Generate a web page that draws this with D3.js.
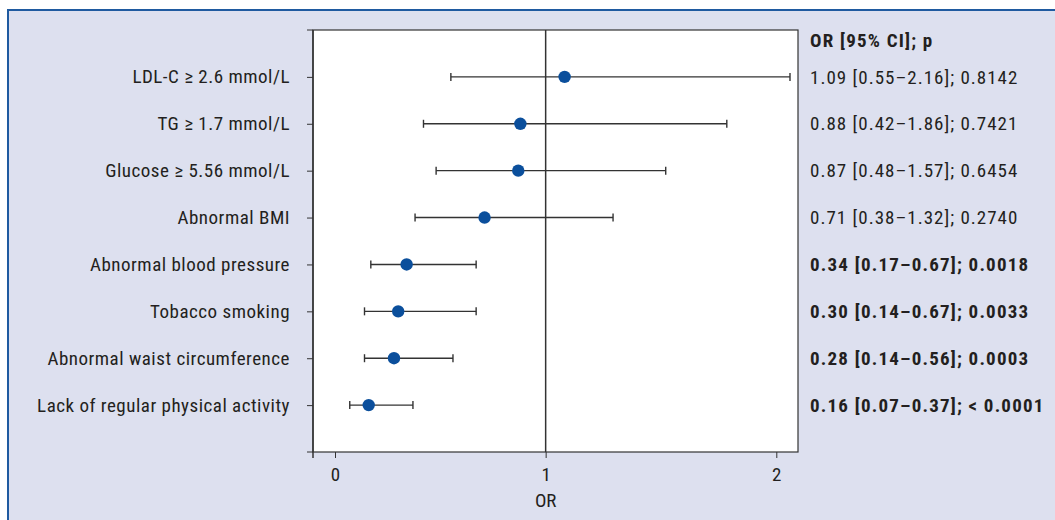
<!DOCTYPE html>
<html>
<head>
<meta charset="utf-8">
<script src="https://cdn.jsdelivr.net/npm/d3@7"></script>
<style>
  html, body { margin: 0; padding: 0; background: #fff; }
  svg { display: block; }
  text { font-family: "Roboto Condensed", "Liberation Sans Narrow", "Liberation Sans", sans-serif; fill: #231f20; }
</style>
</head>
<body>
<svg id="chart" width="1055" height="520"></svg>
<script>
var factors = [
  'LDL-C \u2265 2.6 mmol/L',
  'TG \u2265 1.7 mmol/L',
  'Glucose \u2265 5.56 mmol/L',
  'Abnormal BMI',
  'Abnormal blood pressure',
  'Tobacco smoking',
  'Abnormal waist circumference',
  'Lack of regular physical activity'
];
var oddsRatio = [1.09, 0.88, 0.87, 0.71, 0.34, 0.30, 0.28, 0.16];
var ciLower   = [0.55, 0.42, 0.48, 0.38, 0.17, 0.14, 0.14, 0.07];
var ciUpper   = [2.16, 1.86, 1.57, 1.32, 0.67, 0.67, 0.56, 0.37];
var pValues   = ['0.8142', '0.7421', '0.6454', '0.2740', '0.0018', '0.0033', '0.0003', '< 0.0001'];
var significant = [false, false, false, false, true, true, true, true];
// the original figure draws its "2" tick slightly right of 2.0
var xTickValues = [0, 1, 2.095];
var xTickLabels = ['0', '1', '2'];

var fontSize = 19;

var svg = d3.select('#chart');

// panel
svg.append('rect')
  .attr('x', 8).attr('y', 10)
  .attr('width', 1055).attr('height', 520)
  .attr('fill', '#dde0ef')
  .attr('stroke', '#1f5aa0')
  .attr('stroke-width', 2);

var plotLeft = 313, plotRight = 798, plotTop = 30, plotBottom = 452;

var x = d3.scaleLinear()
  .domain([-0.1045, 2.198])
  .range([plotLeft, plotRight]);

var y = d3.scalePoint()
  .domain(factors)
  .range([plotTop, plotBottom])
  .padding(1);

svg.append('rect')
  .attr('x', plotLeft).attr('y', plotTop)
  .attr('width', plotRight - plotLeft).attr('height', plotBottom - plotTop)
  .attr('fill', '#fff')
  .attr('stroke', '#333')
  .attr('stroke-width', 1.2);

// y axis
var yAxis = d3.axisLeft(y).tickSize(6).tickPadding(17);
var gy = svg.append('g')
  .attr('transform', 'translate(' + plotLeft + ',0)')
  .call(yAxis);
gy.select('.domain').remove();
gy.selectAll('.tick line').attr('stroke', '#333');
gy.selectAll('.tick text')
  .attr('font-size', fontSize)
  .attr('letter-spacing', 0.5)
  .attr('fill', '#231f20');
// end ticks on y axis
[plotTop, plotBottom].forEach(function(v) {
  svg.append('line')
    .attr('x1', plotLeft - 6).attr('x2', plotLeft)
    .attr('y1', v).attr('y2', v)
    .attr('stroke', '#333');
});
svg.append('line')
  .attr('x1', plotLeft).attr('x2', plotLeft)
  .attr('y1', plotTop).attr('y2', plotBottom + 6)
  .attr('stroke', '#333').attr('stroke-width', 1.5);

// x axis
var xAxis = d3.axisBottom(x)
  .tickValues(xTickValues)
  .tickFormat(function(d, i) { return xTickLabels[i]; })
  .tickSize(6)
  .tickPadding(10);
var gx = svg.append('g')
  .attr('transform', 'translate(0,' + plotBottom + ')')
  .call(xAxis);
gx.select('.domain').remove();
gx.selectAll('.tick line').attr('stroke', '#333');
gx.selectAll('.tick text').attr('font-size', fontSize).attr('fill', '#231f20');

svg.append('text')
  .attr('x', x(1))
  .attr('y', 507)
  .attr('text-anchor', 'middle')
  .attr('font-size', fontSize)
  .text('OR');

// reference line at OR = 1
svg.append('line')
  .attr('x1', x(1)).attr('x2', x(1))
  .attr('y1', plotTop).attr('y2', plotBottom)
  .attr('stroke', '#333')
  .attr('stroke-width', 1.5);

var rows = factors.map(function(f, i) {
  return { name: f, or: oddsRatio[i], lo: ciLower[i], hi: ciUpper[i], p: pValues[i], sig: significant[i] };
});

var row = svg.selectAll('.row')
  .data(rows)
  .enter()
  .append('g')
  .attr('class', 'row')
  .attr('transform', function(d) { return 'translate(0,' + y(d.name) + ')'; });

row.append('line')
  .attr('x1', function(d) { return x(d.lo); })
  .attr('x2', function(d) { return x(d.hi); })
  .attr('stroke', '#333')
  .attr('stroke-width', 1.4);

row.selectAll('.cap')
  .data(function(d) { return [d.lo, d.hi]; })
  .enter()
  .append('line')
  .attr('x1', function(d) { return x(d); })
  .attr('x2', function(d) { return x(d); })
  .attr('y1', -4).attr('y2', 4)
  .attr('stroke', '#333')
  .attr('stroke-width', 1.4);

row.append('circle')
  .attr('cx', function(d) { return x(d.or); })
  .attr('r', 6.2)
  .attr('fill', '#0b4f9c');

row.append('text')
  .attr('x', 810)
  .attr('dy', '0.35em')
  .attr('font-size', fontSize)
  .attr('font-weight', function(d) { return d.sig ? 'bold' : 'normal'; })
  .attr('letter-spacing', function(d) { return d.sig ? 1.2 : 1; })
  .text(function(d) {
    return d.or.toFixed(2) + ' [' + d.lo.toFixed(2) + '\u2013' + d.hi.toFixed(2) + ']; ' + d.p;
  });

svg.append('text')
  .attr('x', 810)
  .attr('y', 40)
  .attr('dy', '0.35em')
  .attr('font-size', fontSize)
  .attr('font-weight', 'bold')
  .attr('letter-spacing', 1.2)
  .text('OR [95% CI]; p');
</script>
</body>
</html>
